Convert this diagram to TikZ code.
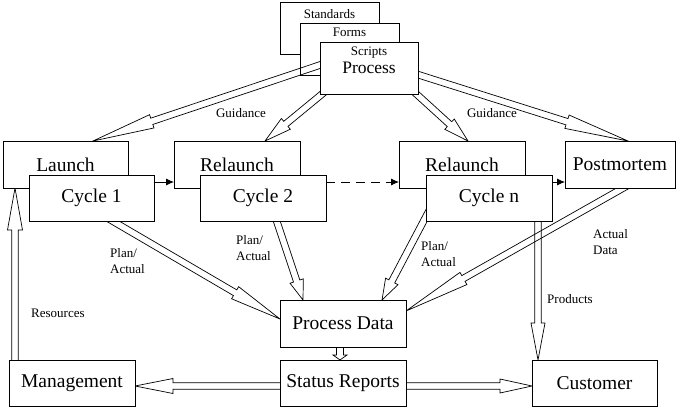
\documentclass[tikz,border=0pt]{standalone}
\usepackage{fontspec}
\setmainfont{Liberation Serif}
\usetikzlibrary{calc,arrows.meta}
\pgfdeclarelayer{back}
\pgfdeclarelayer{mid}
\pgfsetlayers{back,mid,main}
% block arrow: #1 start, #2 tip, #3 head length, #4 shaft half width, #5 head half width
\newcommand\blockarrow[5]{%
  \coordinate (bas) at (#1);
  \coordinate (bat) at (#2);
  \coordinate (bah) at ($(bat)!#3!(bas)$);
  \draw[arrowline] ($(bas)!#4!90:(bat)$) -- ($(bah)!#4!90:(bat)$) -- ($(bah)!#5!90:(bat)$) -- (bat)
    -- ($(bah)!#5!-90:(bat)$) -- ($(bah)!#4!-90:(bat)$) -- ($(bas)!#4!-90:(bat)$);
}
\begin{document}
\begin{tikzpicture}[x=1pt,y=-1pt,
  box/.style={draw, fill=white, line width=0.8pt, inner sep=0pt, outer sep=0pt,
    font=\fontsize{19.5}{22}\selectfont},
  smalltext/.style={font=\fontsize{13}{16}\selectfont},
  lbl/.style={font=\fontsize{13}{16}\selectfont, inner sep=0pt, align=left, anchor=west},
  toplabel/.style={font=\fontsize{13}{16}\selectfont, anchor=north, inner sep=2.5pt},
  arrowline/.style={line width=0.7pt, line join=miter},
  thinarrow/.style={line width=0.8pt, -{Latex[length=8pt,width=7pt]}}]
\useasboundingbox (0,0) rectangle (695,417);

\begin{pgfonlayer}{back}
\node[box, minimum width=99pt, minimum height=52pt,
  label={[toplabel,name=stdl,yshift=-4.5pt]north:Standards}] (std) at (329.5,28) {};
\node[box, minimum width=99pt, minimum height=52pt,
  label={[toplabel,name=forml,yshift=-2.5pt]north:Forms}] (forms) at (349.5,49) {};
\end{pgfonlayer}

\node[box, minimum width=98pt, minimum height=52pt, font=\fontsize{17.5}{20}\selectfont,
  label={[toplabel,name=scrl,yshift=-2.5pt]north:Scripts}] (proc) at (369,68) {\raisebox{-6pt}{Process}};

\node[box, minimum width=125pt, minimum height=47pt] (launch) at (65.5,164.5) {Launch};
\node[box, minimum width=126pt, minimum height=47pt] (rel1) at (237,164.5) {Relaunch};
\node[box, minimum width=126pt, minimum height=47pt] (reln) at (462,164.5) {Relaunch};
\node[box, minimum width=110pt, minimum height=47pt] (post) at (620,164.5) {Postmortem};

\node[box, minimum width=125pt, minimum height=46pt] (cyc1) at (91.5,198) {Cycle 1};
\node[box, minimum width=126pt, minimum height=46pt] (cyc2) at (263,198) {Cycle 2};
\node[box, minimum width=126pt, minimum height=46pt] (cycn) at (489,198) {Cycle n};

\node[box, minimum width=126pt, minimum height=47pt] (pd) at (343,323.5) {Process Data};
\node[box, minimum width=126pt, minimum height=46pt] (sr) at (343,383) {Status Reports};
\node[box, minimum width=126pt, minimum height=46pt] (mgmt) at (72,383) {Management};
\node[box, minimum width=125pt, minimum height=46pt] (cust) at (594.5,383) {Customer};

\begin{pgfonlayer}{mid}
\blockarrow{$(proc.west)+(3,-4)$}{$(launch.north west)+(90,0)$}{62pt}{3.3pt}{7pt}
\blockarrow{$(proc.south west)+(7,-4)$}{$(rel1.north west)+(91,0)$}{27pt}{3.3pt}{7pt}
\blockarrow{$(proc.south east)+(-6,-4)$}{$(reln.north west)+(69,0)$}{25pt}{3.3pt}{7pt}
\blockarrow{$(proc.east)+(-2,6)$}{$(post.north west)+(63,0)$}{64pt}{3.3pt}{7pt}
\blockarrow{$(cyc1.south west)+(75,-5)$}{$(pd.west)+(0,-4.5)$}{52pt}{3.3pt}{7pt}
\blockarrow{$(cyc2.south west)+(75,-5)$}{$(pd.north west)+(23,0)$}{20pt}{3.3pt}{7pt}
\blockarrow{$(cycn.south west)+(5,-14)$}{$(pd.north west)+(102,0)$}{21pt}{3.3pt}{7pt}
\blockarrow{$(post.south west)+(67,-5)$}{$(pd.north east)+(0,11)$}{66pt}{3.3pt}{7pt}
\blockarrow{$(cycn.south east)+(-14,-5)$}{$(cust.north west)+(6,0)$}{37pt}{3.3pt}{7pt}
\blockarrow{$(pd.south)+(-3,-4)$}{$(sr.north)+(-3,0)$}{5pt}{3.5pt}{7pt}
\blockarrow{$(sr.west)+(5,3)$}{$(mgmt.east)+(0,3)$}{38pt}{3.3pt}{7.5pt}
\blockarrow{$(sr.east)+(-5,3)$}{$(cust.west)+(0,3)$}{32pt}{3.3pt}{7pt}
\blockarrow{$(mgmt.north west)+(6,5)$}{$(launch.south west)+(12,0)$}{42pt}{3.3pt}{7.5pt}
\end{pgfonlayer}

\draw[thinarrow] ($(cyc1.north east)+(0,7)$) -- ($(rel1.south west)+(0,-6)$);
\draw[thinarrow, dash pattern=on 9pt off 6pt] ($(cyc2.north east)+(0,7)$) -- ($(reln.south west)+(0,-6)$);
\draw[thinarrow] ($(cycn.north east)+(0,7)$) -- ($(post.south west)+(0,-6)$);

\node[smalltext, inner sep=0pt] (g1) at (241,113) {Guidance};
\node[smalltext, inner sep=0pt] (g2) at (492,113) {Guidance};
\node[lbl] (pa1) at (110,261) {Plan/\\Actual};
\node[lbl] (pa2) at (236,248) {Plan/\\Actual};
\node[lbl] (pa3) at (421,254) {Plan/\\Actual};
\node[lbl] (ad) at (593,242) {Actual\\Data};
\node[lbl] (prod) at (547,299) {Products};
\node[lbl] (res) at (31,313) {Resources};
\end{tikzpicture}
\end{document}
